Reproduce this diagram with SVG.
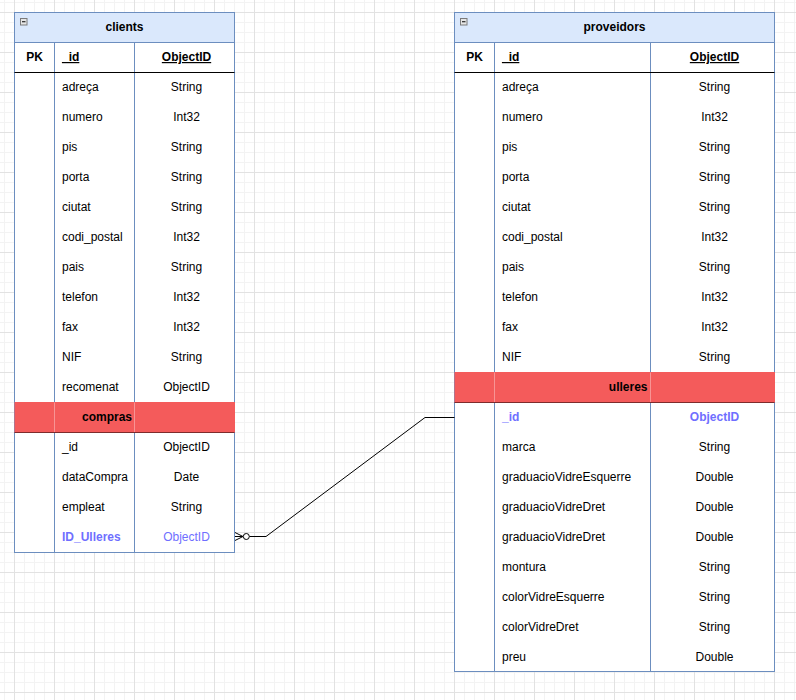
<svg xmlns="http://www.w3.org/2000/svg" width="796" height="700" viewBox="0 0 796 700">
<defs>
<pattern id="grid" patternUnits="userSpaceOnUse" x="14" y="12" width="40" height="40">
<rect x="10" y="0" width="1" height="40" fill="#f3f3f3"/>
<rect x="20" y="0" width="1" height="40" fill="#f3f3f3"/>
<rect x="30" y="0" width="1" height="40" fill="#f3f3f3"/>
<rect x="0" y="10" width="40" height="1" fill="#f3f3f3"/>
<rect x="0" y="20" width="40" height="1" fill="#f3f3f3"/>
<rect x="0" y="30" width="40" height="1" fill="#f3f3f3"/>
<rect x="0" y="0" width="1" height="40" fill="#e2e2e2"/>
<rect x="0" y="0" width="40" height="1" fill="#e2e2e2"/>
</pattern>
</defs>
<style>
text{font-family:"Liberation Sans",Arial,sans-serif;font-size:12px;fill:#000}
.b{font-weight:bold}
.u{text-decoration:underline}
.c{text-anchor:middle}
.e{text-anchor:end}
.blue{fill:#6f6fff}
.hd{fill:#dae8fc;stroke:#6c8ebf;stroke-width:1}
.bd{fill:#fff;stroke:#6c8ebf;stroke-width:1}
.col{stroke:#6c8ebf;stroke-width:1;fill:none}
.sep{stroke:#000;stroke-width:1;fill:none}
.red{fill:#f45b5b}
.redl{stroke:#7d2c2c;stroke-width:1;fill:none}
.fade{stroke:#fff;stroke-opacity:0.35;stroke-width:1}
.mbox{fill:#e6e6e6;stroke:#7a7a7a;stroke-width:1}
.conn{stroke:#000;stroke-width:1;fill:none}
</style>
<rect width="796" height="700" fill="#fff"/>
<rect width="796" height="700" fill="url(#grid)"/>

<g id="clients">
<rect class="bd" x="14.5" y="12.5" width="220" height="540"/>
<rect class="hd" x="14.5" y="12.5" width="220" height="30"/>
<rect class="mbox" x="20.5" y="18.5" width="6.5" height="6.5"/>
<line x1="22" y1="21.75" x2="25.5" y2="21.75" stroke="#000" stroke-width="1"/>
<text class="b c" x="124.5" y="31">clients</text>
<line class="col" x1="54.5" y1="42.5" x2="54.5" y2="552.5"/>
<line class="col" x1="134.5" y1="42.5" x2="134.5" y2="552.5"/>
<line class="sep" x1="14.5" y1="72.5" x2="234.5" y2="72.5"/>
<text class="b c" x="34.5" y="61">PK</text>
<text class="b u" x="62" y="61">_id</text>
<text class="b u c" x="186.5" y="61">ObjectID</text>
<text x="62" y="91">adreça</text><text class="c" x="186.5" y="91">String</text>
<text x="62" y="121">numero</text><text class="c" x="186.5" y="121">Int32</text>
<text x="62" y="151">pis</text><text class="c" x="186.5" y="151">String</text>
<text x="62" y="181">porta</text><text class="c" x="186.5" y="181">String</text>
<text x="62" y="211">ciutat</text><text class="c" x="186.5" y="211">String</text>
<text x="62" y="241">codi_postal</text><text class="c" x="186.5" y="241">Int32</text>
<text x="62" y="271">pais</text><text class="c" x="186.5" y="271">String</text>
<text x="62" y="301">telefon</text><text class="c" x="186.5" y="301">Int32</text>
<text x="62" y="331">fax</text><text class="c" x="186.5" y="331">Int32</text>
<text x="62" y="361">NIF</text><text class="c" x="186.5" y="361">String</text>
<text x="62" y="391">recomenat</text><text class="c" x="186.5" y="391">ObjectID</text>
<rect class="red" x="14.5" y="402" width="220.5" height="30.5"/>
<line class="fade" x1="54.5" y1="402.5" x2="54.5" y2="432"/>
<line class="fade" x1="134.5" y1="402.5" x2="134.5" y2="432"/>
<line class="redl" x1="14.5" y1="432.5" x2="234.5" y2="432.5"/>
<text class="b e" x="132" y="421">compras</text>
<text x="62" y="451">_id</text><text class="c" x="186.5" y="451">ObjectID</text>
<text x="62" y="481">dataCompra</text><text class="c" x="186.5" y="481">Date</text>
<text x="62" y="511">empleat</text><text class="c" x="186.5" y="511">String</text>
<text class="b blue" x="62" y="541">ID_Ulleres</text><text class="c blue" x="186.5" y="541">ObjectID</text>
</g>

<g id="proveidors">
<rect class="bd" x="454.5" y="12.5" width="320" height="659"/>
<rect class="hd" x="454.5" y="12.5" width="320" height="30"/>
<rect class="mbox" x="460.5" y="18.5" width="6.5" height="6.5"/>
<line x1="462" y1="21.75" x2="465.5" y2="21.75" stroke="#000" stroke-width="1"/>
<text class="b c" x="614.5" y="31">proveidors</text>
<line class="col" x1="494.5" y1="42.5" x2="494.5" y2="671.5"/>
<line class="col" x1="650.5" y1="42.5" x2="650.5" y2="671.5"/>
<line class="sep" x1="454.5" y1="72.5" x2="774.5" y2="72.5"/>
<text class="b c" x="474.5" y="61">PK</text>
<text class="b u" x="502" y="61">_id</text>
<text class="b u c" x="714.5" y="61">ObjectID</text>
<text x="502" y="91">adreça</text><text class="c" x="714.5" y="91">String</text>
<text x="502" y="121">numero</text><text class="c" x="714.5" y="121">Int32</text>
<text x="502" y="151">pis</text><text class="c" x="714.5" y="151">String</text>
<text x="502" y="181">porta</text><text class="c" x="714.5" y="181">String</text>
<text x="502" y="211">ciutat</text><text class="c" x="714.5" y="211">String</text>
<text x="502" y="241">codi_postal</text><text class="c" x="714.5" y="241">Int32</text>
<text x="502" y="271">pais</text><text class="c" x="714.5" y="271">String</text>
<text x="502" y="301">telefon</text><text class="c" x="714.5" y="301">Int32</text>
<text x="502" y="331">fax</text><text class="c" x="714.5" y="331">Int32</text>
<text x="502" y="361">NIF</text><text class="c" x="714.5" y="361">String</text>
<rect class="red" x="454.5" y="372" width="320.5" height="30.5"/>
<line class="fade" x1="494.5" y1="372.5" x2="494.5" y2="402"/>
<line class="fade" x1="650.5" y1="372.5" x2="650.5" y2="402"/>
<line class="redl" x1="454.5" y1="402.5" x2="774.5" y2="402.5"/>
<text class="b e" x="647.5" y="391">ulleres</text>
<text class="b blue" x="502" y="421">_id</text><text class="b c blue" x="714.5" y="421">ObjectID</text>
<text x="502" y="451">marca</text><text class="c" x="714.5" y="451">String</text>
<text x="502" y="481">graduacioVidreEsquerre</text><text class="c" x="714.5" y="481">Double</text>
<text x="502" y="511">graduacioVidreDret</text><text class="c" x="714.5" y="511">Double</text>
<text x="502" y="541">graduacioVidreDret</text><text class="c" x="714.5" y="541">Double</text>
<text x="502" y="571">montura</text><text class="c" x="714.5" y="571">String</text>
<text x="502" y="601">colorVidreEsquerre</text><text class="c" x="714.5" y="601">String</text>
<text x="502" y="631">colorVidreDret</text><text class="c" x="714.5" y="631">String</text>
<text x="502" y="661">preu</text><text class="c" x="714.5" y="661">Double</text>
</g>

<g id="connectors">
<path class="conn" d="M249.5 536.5 H266 L425 417.5 H454.5"/>
<path class="conn" d="M235 532.5 L243 536.5 L235 540.5 M235 536.5 H243"/>
<circle class="conn" cx="246.3" cy="536.5" r="3" fill="#fff"/>
</g>
</svg>
